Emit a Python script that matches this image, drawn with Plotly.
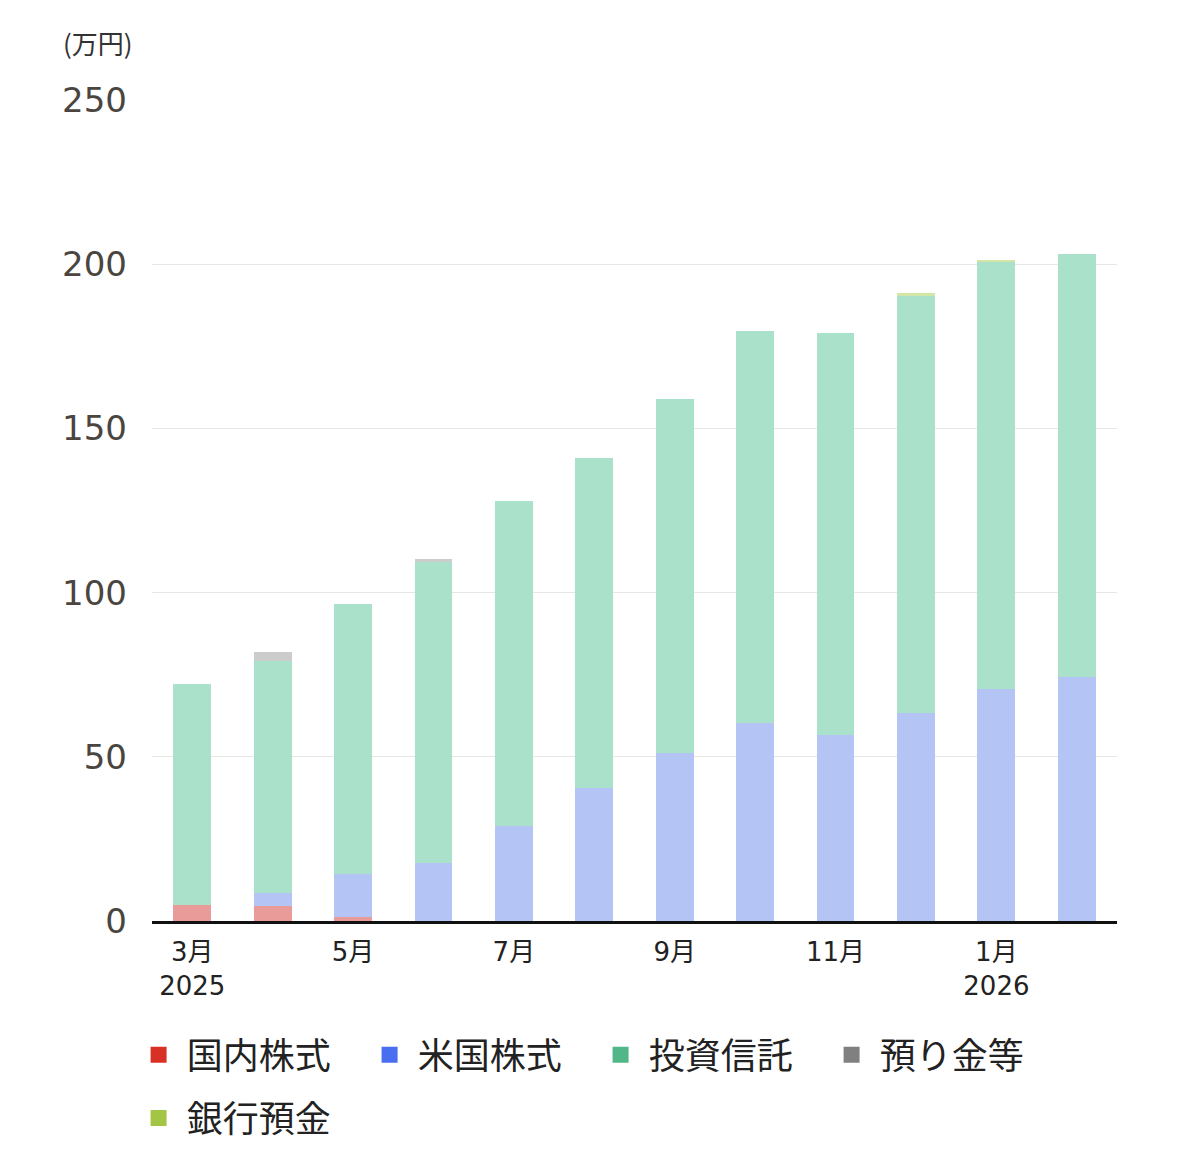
import plotly.graph_objects as go

months = ["2025-03", "2025-04", "2025-05", "2025-06", "2025-07", "2025-08",
          "2025-09", "2025-10", "2025-11", "2025-12", "2026-01", "2026-02"]
domestic = [4.9, 4.6, 1.2, 0, 0, 0, 0, 0, 0, 0, 0, 0]
us_stock = [0, 4.0, 13.1, 17.7, 28.9, 40.5, 51.2, 60.3, 56.6, 63.3, 70.6, 74.3]
funds = [67.3, 70.6, 82.2, 91.9, 99.0, 100.5, 107.8, 119.4, 122.4, 127.3, 130.1, 128.8]
deposits = [0, 2.7, 0, 0.6, 0, 0, 0, 0, 0, 0, 0, 0]
bank = [0, 0, 0, 0, 0, 0, 0, 0, 0, 0.6, 0.6, 0]

tick_vals = ["2025-03", "2025-05", "2025-07", "2025-09", "2025-11", "2026-01"]
tick_text = ["3月<br>2025", "5月", "7月", "9月", "11月", "1月<br>2026"]
y_ticks = [0, 50, 100, 150, 200, 250]

names = ["国内株式", "米国株式", "投資信託", "預り金等", "銀行預金"]
series = [domestic, us_stock, funds, deposits, bank]
bar_colors = ["#e89b98", "#b3c4f5", "#a9e1cb", "#cccccc", "#d3e6a8"]
legend_colors = ["#d93025", "#4a6ef0", "#52b788", "#808080", "#a4c444"]
legend_groups = ["legend", "legend", "legend", "legend", "legend2"]

FONT = "Noto Sans CJK JP"
NUMFONT = "DejaVu Sans, Noto Sans CJK JP"

fig = go.Figure()
for name, vals, col in zip(names, series, bar_colors):
    fig.add_trace(go.Bar(x=months, y=vals, name=name, marker=dict(color=col, line=dict(width=0)),
                         showlegend=False, width=0.47))
for name, col, lg in zip(names, legend_colors, legend_groups):
    fig.add_trace(go.Scatter(x=[None], y=[None], mode="markers", name=" " + name, legend=lg,
                             marker=dict(symbol="square", size=16, color=col)))

legend_common = dict(orientation="h", xanchor="left", yanchor="middle",
                     font=dict(size=36, color="#222", family=FONT),
                     entrywidth=186, entrywidthmode="pixels",
                     itemsizing="trace", traceorder="normal", bgcolor="rgba(0,0,0,0)")

fig.update_layout(
    width=1179, height=1160,
    margin=dict(l=144, r=70, t=92, b=247),
    barmode="stack",
    plot_bgcolor="white", paper_bgcolor="white",
    font=dict(family=FONT, color="#222"),
    showlegend=True,
    legend=dict(x=-0.0139, y=-0.163, **legend_common),
    legend2=dict(x=-0.0139, y=-0.240, **legend_common),
    xaxis=dict(type="category", categoryorder="array", categoryarray=months,
               range=[-0.5, 11.5], tickmode="array", tickvals=tick_vals, ticktext=tick_text,
               tickfont=dict(size=26, color="#222", family=NUMFONT), showgrid=False,
               showline=True, linecolor="#111", linewidth=3, ticks="", ticklabelstandoff=6),
    yaxis=dict(range=[0, 250], tickmode="array", tickvals=y_ticks,
               tickfont=dict(size=34, color="#4a4540", family=NUMFONT),
               gridcolor="#e6e6e2", gridwidth=1,
               zeroline=False, showline=False, ticks="", ticklabelstandoff=24),
    annotations=[dict(text="(万円)", xref="paper", yref="paper", x=-0.094, y=1.07,
                      xanchor="left", yanchor="middle", showarrow=False,
                      font=dict(size=26, color="#333", family=FONT))],
)

fig.write_html("out.html")
